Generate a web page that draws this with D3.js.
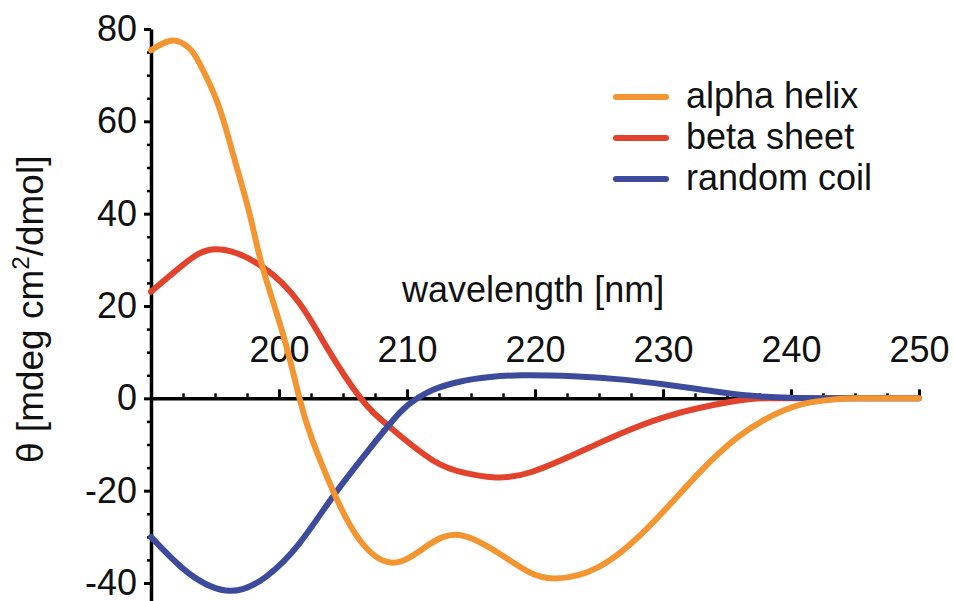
<!DOCTYPE html>
<html>
<head>
<meta charset="utf-8">
<script src="https://cdn.jsdelivr.net/npm/d3@7"></script>
<style>
  body { margin: 0; background: #fff; }
  svg { display: block; font-family: "Liberation Sans", Arial, sans-serif; }
</style>
</head>
<body>
<div id="cd-chart"></div>
<script>
// series (wavelength in nm, theta in mdeg cm2/dmol)
var seriesNames = ["alpha helix", "beta sheet", "random coil"];
var seriesColors = ["#f39632", "#e2432c", "#3d4b9c"];

var alphaWl = [190, 191.7, 193.0, 193.8, 195.2, 196.4, 197.7, 198.7, 200.3, 201.6, 202.6, 204.2, 206.3, 208.9, 211.5, 214.1, 217.2, 219.5, 221.6, 225, 228.9, 232.8, 235.9, 238.5, 240.6, 242.5, 245, 250];
var alphaVal = [75.4, 77.5, 75.8, 72.5, 64.0, 53.0, 40.0, 28.5, 14.0, 0, -9, -19.9, -30.7, -35.6, -32.1, -29.6, -33.6, -37.6, -39.0, -36.5, -27.8, -16.2, -8.3, -3.8, -1.45, -0.5, 0, 0];

var betaWl = [190, 192.5, 195.1, 198.7, 201.6, 203.7, 206.3, 208.6, 212, 214.6, 216.7, 219.8, 225, 230.2, 235.4, 238, 242, 250];
var betaVal = [23.1, 28.9, 32.3, 28.5, 20.6, 11.2, 0.3, -6.1, -13.4, -16.2, -17.1, -15.9, -9.7, -4.0, -0.7, 0, 0, 0];

var coilWl = [190, 193, 196.2, 199, 201.6, 204.2, 206.8, 209.4, 210.8, 212, 214.1, 216.5, 219, 223, 227.1, 232.3, 236.2, 240, 243, 250];
var coilVal = [-30, -38, -41.7, -38.6, -31.4, -21.3, -11.9, -3.2, 0, 1.8, 3.6, 4.6, 5.0, 4.8, 4.0, 2.2, 0.7, 0.1, 0, 0];

var xMajorTicks = [200, 210, 220, 230, 240, 250];
var yMajorTicks = [-40, -20, 0, 20, 40, 60, 80];

var width = 953, height = 601;

// scales
var x = d3.scaleLinear().domain([190, 250]).range([151, 919]);
var y = d3.scaleLinear().domain([-43.9, 80]).range([601, 29]);

var svg = d3.select("#cd-chart").append("svg")
  .attr("width", width)
  .attr("height", height);

// plain hyphen for negatives, like the original
var fmt = function(d) { return String(d); };

// minor tick values (x every 2.5 nm, y every 5)
var xMinor = d3.range(192.5, 250, 2.5).filter(function(d) { return d % 10 !== 0; });
var yMinor = d3.range(-40, 80, 5).filter(function(d) { return d % 20 !== 0; });

// y axis
svg.append("g")
  .attr("transform", "translate(" + x(190) + ",0)")
  .call(d3.axisLeft(y).tickValues(yMinor).tickSize(4).tickSizeOuter(0).tickFormat(""))
  .call(function(g) { g.select(".domain").remove(); })
  .selectAll("line").attr("stroke-width", 2.5);

var yAxis = svg.append("g")
  .attr("transform", "translate(" + x(190) + ",0)")
  .call(d3.axisLeft(y).tickValues(yMajorTicks).tickSize(7).tickSizeOuter(0).tickPadding(7).tickFormat(fmt));
yAxis.attr("font-size", 36).attr("font-family", null);
yAxis.select(".domain").attr("stroke-width", 3.5);
yAxis.selectAll("line").attr("stroke-width", 3);
yAxis.selectAll("text").attr("fill", "#111");

// x axis sits on theta = 0, ticks point up
svg.append("g")
  .attr("transform", "translate(0," + y(0) + ")")
  .call(d3.axisTop(x).tickValues(xMinor).tickSize(5).tickSizeOuter(0).tickFormat(""))
  .call(function(g) { g.select(".domain").remove(); })
  .selectAll("line").attr("stroke-width", 2.5);

var xAxis = svg.append("g")
  .attr("transform", "translate(0," + y(0) + ")")
  .call(d3.axisTop(x).tickValues(xMajorTicks).tickSize(9).tickSizeOuter(0).tickPadding(27).tickFormat(fmt));
xAxis.attr("font-size", 36).attr("font-family", null);
xAxis.select(".domain").attr("stroke-width", 3.5);
xAxis.selectAll("line").attr("stroke-width", 3);
xAxis.selectAll("text").attr("fill", "#111");

// curves
var line = d3.line()
  .x(function(d) { return x(d[0]); })
  .y(function(d) { return y(d[1]); })
  .curve(d3.curveNatural);

var series = [
  { name: seriesNames[1], color: seriesColors[1], pts: d3.zip(betaWl, betaVal) },
  { name: seriesNames[2], color: seriesColors[2], pts: d3.zip(coilWl, coilVal) },
  { name: seriesNames[0], color: seriesColors[0], pts: d3.zip(alphaWl, alphaVal) }
];

svg.selectAll(".curve")
  .data(series)
  .enter().append("path")
  .attr("class", "curve")
  .attr("fill", "none")
  .attr("stroke", function(d) { return d.color; })
  .attr("stroke-width", 6)
  .attr("stroke-linejoin", "round")
  .attr("stroke-linecap", "round")
  .attr("d", function(d) { return line(d.pts); });

// axis titles
svg.append("text")
  .attr("x", 402)
  .attr("y", 302)
  .attr("font-size", 36)
  .attr("fill", "#111")
  .text("wavelength [nm]");

var yTitle = svg.append("text")
  .attr("transform", "translate(43,463) rotate(-90)")
  .attr("font-size", 37)
  .attr("fill", "#111");
yTitle.append("tspan").text("\u03b8 [mdeg cm");
yTitle.append("tspan").attr("dy", -14).attr("font-size", 24).text("2");
yTitle.append("tspan").attr("dy", 14).text("/dmol]");

// legend
var legend = svg.selectAll(".legend")
  .data(seriesNames)
  .enter().append("g")
  .attr("class", "legend")
  .attr("transform", function(d, i) { return "translate(616," + (97 + i * 41) + ")"; });

legend.append("line")
  .attr("x1", 0).attr("x2", 50)
  .attr("stroke", function(d, i) { return seriesColors[i]; })
  .attr("stroke-width", 6)
  .attr("stroke-linecap", "round");

legend.append("text")
  .attr("x", 70)
  .attr("y", 11)
  .attr("font-size", 36)
  .attr("fill", "#111")
  .text(function(d) { return d; });
</script>
</body>
</html>
